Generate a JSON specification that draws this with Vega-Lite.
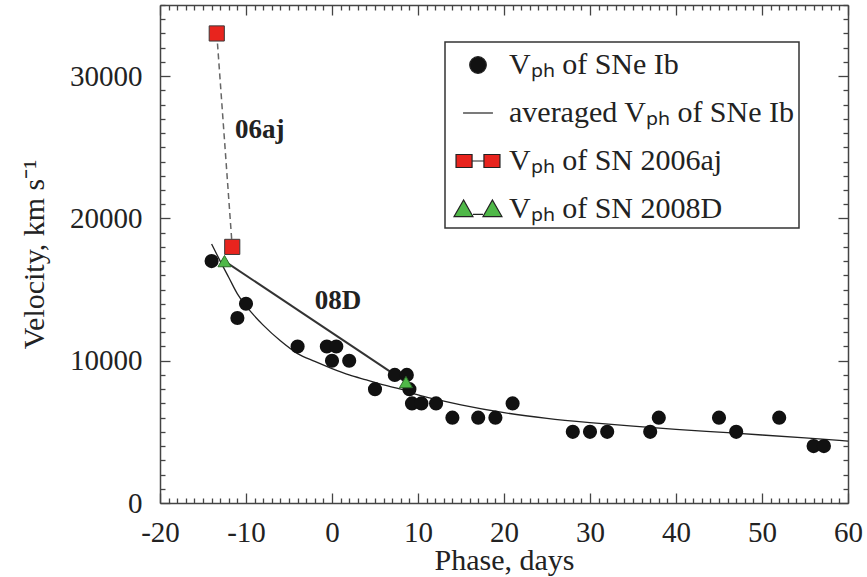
{
  "$schema": "https://vega.github.io/schema/vega-lite/v6.json",
  "width": 688,
  "height": 498,
  "autosize": {"type": "none"},
  "padding": {"left": 160, "top": 5, "right": 19, "bottom": 74},
  "background": "white",
  "config": {
    "view": {"stroke": null},
    "font": "Liberation Serif",
    "axis": {
      "labelFont": "Liberation Serif",
      "titleFont": "Liberation Serif",
      "labelFontSize": 29,
      "titleFontSize": 30,
      "labelColor": "#222",
      "titleColor": "#222",
      "titleFontWeight": "normal",
      "domainColor": "#444",
      "domainWidth": 1.5,
      "tickColor": "#444",
      "tickWidth": 1.3,
      "grid": false,
      "labelOverlap": false,
      "labelFlush": false
    }
  },
  "datasets": {
    "avg": [
      {"phase": -14, "velocity": 18200}, {"phase": -13, "velocity": 17000},
      {"phase": -12, "velocity": 15850}, {"phase": -11, "velocity": 14700},
      {"phase": -10, "velocity": 13850}, {"phase": -8, "velocity": 12500},
      {"phase": -6, "velocity": 11400}, {"phase": -4, "velocity": 10500},
      {"phase": -2, "velocity": 9950}, {"phase": 0, "velocity": 9450},
      {"phase": 2, "velocity": 9000}, {"phase": 4, "velocity": 8650},
      {"phase": 6, "velocity": 8300}, {"phase": 8, "velocity": 8000},
      {"phase": 10, "velocity": 7600}, {"phase": 12, "velocity": 7300},
      {"phase": 15, "velocity": 6900}, {"phase": 20, "velocity": 6350},
      {"phase": 25, "velocity": 5950}, {"phase": 30, "velocity": 5650},
      {"phase": 35, "velocity": 5400}, {"phase": 40, "velocity": 5180},
      {"phase": 45, "velocity": 4980}, {"phase": 50, "velocity": 4780},
      {"phase": 55, "velocity": 4570}, {"phase": 60, "velocity": 4350}
    ],
    "ib": [
      {"phase": -14, "velocity": 17000}, {"phase": -11, "velocity": 13000},
      {"phase": -10, "velocity": 14000}, {"phase": -4, "velocity": 11000},
      {"phase": -0.6, "velocity": 11000}, {"phase": 0.5, "velocity": 11000},
      {"phase": 0, "velocity": 10000}, {"phase": 2, "velocity": 10000},
      {"phase": 5, "velocity": 8000}, {"phase": 7.3, "velocity": 9000},
      {"phase": 8.7, "velocity": 9000}, {"phase": 9, "velocity": 8000},
      {"phase": 9.3, "velocity": 7000}, {"phase": 10.4, "velocity": 7000},
      {"phase": 12.1, "velocity": 7000}, {"phase": 14, "velocity": 6000},
      {"phase": 17, "velocity": 6000}, {"phase": 19, "velocity": 6000},
      {"phase": 21, "velocity": 7000}, {"phase": 28, "velocity": 5000},
      {"phase": 30, "velocity": 5000}, {"phase": 32, "velocity": 5000},
      {"phase": 37, "velocity": 5000}, {"phase": 38, "velocity": 6000},
      {"phase": 45, "velocity": 6000}, {"phase": 47, "velocity": 5000},
      {"phase": 52, "velocity": 6000}, {"phase": 56, "velocity": 4000},
      {"phase": 57.2, "velocity": 4000}
    ],
    "sn2006aj": [
      {"phase": -13.4, "velocity": 33000}, {"phase": -11.6, "velocity": 18000}
    ],
    "sn2008d": [
      {"phase": -12.5, "velocity": 17000}, {"phase": 8.6, "velocity": 8500}
    ],
    "notes": [
      {"label": "06aj", "phase": -8.4, "velocity": 26200},
      {"label": "08D", "phase": 0.7, "velocity": 14200}
    ],
    "legend": [
      {"series": "Vₚₕ of SNe Ib"},
      {"series": "averaged Vₚₕ of SNe Ib"},
      {"series": "Vₚₕ of SN 2006aj"},
      {"series": "Vₚₕ of SN 2008D"}
    ]
  },
  "layer": [
    {
      "data": {"name": "avg"},
      "mark": {"type": "line", "color": "#222", "strokeWidth": 1.3, "interpolate": "monotone"},
      "encoding": {
        "x": {"field": "phase", "type": "quantitative", "scale": {"domain": [-20, 60], "nice": false},
          "axis": {"orient": "top", "labels": false, "title": null, "tickCount": 80,
            "tickSize": {"condition": {"test": "datum.value % 10 === 0", "value": -10}, "value": -5}}},
        "y": {"field": "velocity", "type": "quantitative", "scale": {"domain": [0, 35000], "nice": false},
          "axis": {"orient": "right", "labels": false, "title": null, "tickCount": 35,
            "tickSize": {"condition": {"test": "datum.value % 10000 === 0", "value": -10}, "value": -5}}}
      }
    },
    {
      "data": {"name": "sn2008d"},
      "mark": {"type": "line", "color": "#333", "strokeWidth": 2},
      "encoding": {
        "x": {"field": "phase", "type": "quantitative", "axis": null},
        "y": {"field": "velocity", "type": "quantitative", "axis": null}
      }
    },
    {
      "data": {"name": "sn2006aj"},
      "mark": {"type": "line", "color": "#666", "strokeWidth": 1.5, "strokeDash": [6, 4]},
      "encoding": {
        "x": {"field": "phase", "type": "quantitative", "axis": null},
        "y": {"field": "velocity", "type": "quantitative", "axis": null}
      }
    },
    {
      "data": {"name": "ib"},
      "mark": {"type": "point", "filled": true, "shape": "circle", "size": 200, "color": "#111", "opacity": 1},
      "encoding": {
        "x": {"field": "phase", "type": "quantitative", "scale": {"domain": [-20, 60], "nice": false},
          "axis": {"orient": "bottom", "title": "Phase, days", "tickCount": 80,
            "tickSize": {"condition": {"test": "datum.value % 10 === 0", "value": -10}, "value": -5},
            "labelExpr": "datum.value % 10 === 0 ? '' + datum.value : ''",
            "labelFont": "Liberation Serif", "titleFont": "Liberation Serif",
            "labelPadding": 25, "titleBaseline": "alphabetic", "titleY": 66,
            "encode": {"labels": {"update": {"dy": {"value": 25}}}}}},
        "y": {"field": "velocity", "type": "quantitative", "scale": {"domain": [0, 35000], "nice": false},
          "axis": {"orient": "left", "title": "Velocity, km s⁻¹", "tickCount": 35,
            "tickSize": {"condition": {"test": "datum.value % 10000 === 0", "value": -10}, "value": -5},
            "labelExpr": "datum.value % 10000 === 0 ? '' + datum.value : ''",
            "labelFont": "Liberation Serif", "titleFont": "Liberation Serif",
            "labelPadding": 28, "titleBaseline": "alphabetic", "titleX": -117}}
      }
    },
    {
      "data": {"name": "sn2006aj"},
      "mark": {"type": "point", "filled": true, "shape": "square", "size": 230, "fill": "#e8241e", "stroke": "#3a3a3a", "strokeWidth": 1, "opacity": 1},
      "encoding": {
        "x": {"field": "phase", "type": "quantitative", "axis": null},
        "y": {"field": "velocity", "type": "quantitative", "axis": null}
      }
    },
    {
      "data": {"name": "sn2008d"},
      "mark": {"type": "point", "filled": true, "shape": "triangle-up", "size": 170, "fill": "#4fb848", "stroke": "#2d6b2a", "strokeWidth": 1, "opacity": 1},
      "encoding": {
        "x": {"field": "phase", "type": "quantitative", "axis": null},
        "y": {"field": "velocity", "type": "quantitative", "axis": null}
      }
    },
    {
      "data": {"name": "notes"},
      "mark": {"type": "text", "font": "Liberation Serif", "fontWeight": "bold", "fontSize": 27, "color": "#222", "align": "center", "baseline": "middle"},
      "encoding": {
        "x": {"field": "phase", "type": "quantitative", "axis": null},
        "y": {"field": "velocity", "type": "quantitative", "axis": null},
        "text": {"field": "label"}
      }
    },
    {
      "data": {"name": "legend"},
      "mark": {"type": "point", "filled": true, "stroke": "#222", "strokeWidth": 1.2, "opacity": 1},
      "encoding": {
        "x": {"field": "phase", "type": "quantitative", "axis": null},
        "y": {"field": "velocity", "type": "quantitative", "axis": null},
        "color": {"field": "series", "type": "nominal",
          "scale": {"domain": ["Vₚₕ of SNe Ib", "averaged Vₚₕ of SNe Ib", "Vₚₕ of SN 2006aj", "Vₚₕ of SN 2008D"],
            "range": ["#111", "#222", "#e8241e", "#4fb848"]},
          "legend": {"title": null, "orient": "none", "legendX": 285, "legendY": 37,
            "symbolSize": 1296, "symbolOffset": 10, "symbolStrokeColor": "#222", "symbolStrokeWidth": 1.2, "symbolOpacity": 1,
            "labelFont": "Liberation Serif", "labelFontSize": 30, "labelColor": "#222", "labelOffset": 12, "labelLimit": 0,
            "rowPadding": 14, "padding": 4, "strokeColor": "#333", "fillColor": "white",
            "encode": {"legend": {"update": {"strokeWidth": {"value": 1.5}}}}}},
        "shape": {"field": "series", "type": "nominal",
          "scale": {"domain": ["Vₚₕ of SNe Ib", "averaged Vₚₕ of SNe Ib", "Vₚₕ of SN 2006aj", "Vₚₕ of SN 2008D"],
            "range": [
              "M-0.46,0A0.46,0.46 0 1,0 0.46,0A0.46,0.46 0 1,0 -0.46,0Z",
              "M-0.83,0H0.83",
              "M-1.22,-0.36H-0.33V0.36H-1.22Z M0.33,-0.36H1.22V0.36H0.33Z M-0.33,0H0.33",
              "M-1.33,0.42L-0.8,-0.5L-0.28,0.42Z M0.28,0.42L0.8,-0.5L1.33,0.42Z M-0.28,0.3H0.28"
            ]}}
      }
    }
  ],
  "resolve": {"axis": {"x": "independent", "y": "independent"}}
}
